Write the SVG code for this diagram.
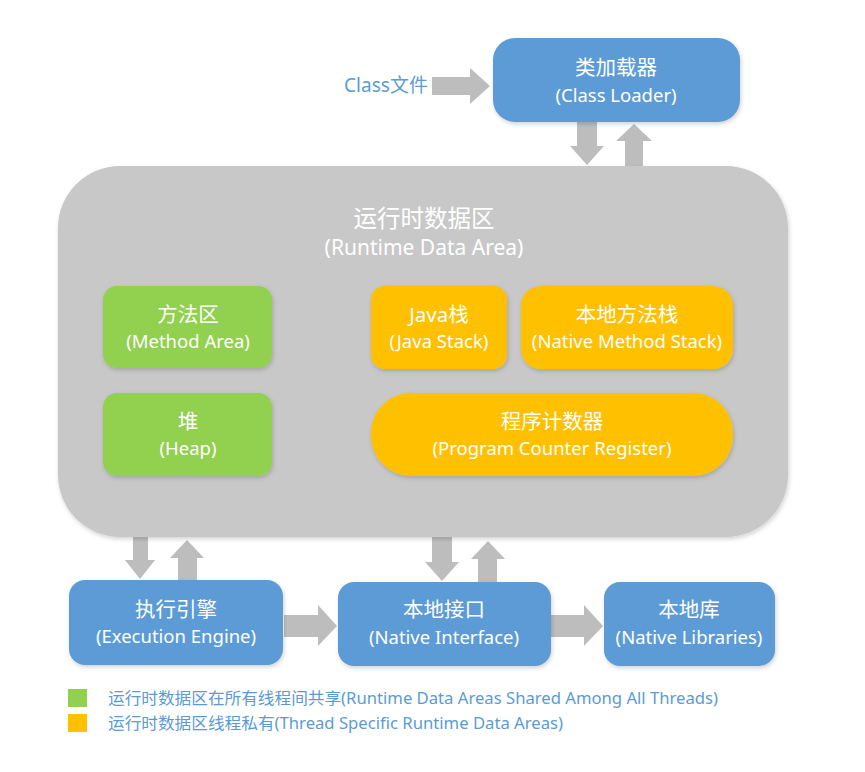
<svg xmlns="http://www.w3.org/2000/svg" width="865" height="772" viewBox="0 0 865 772">
<defs>
<filter id="sh" x="-10%" y="-10%" width="120%" height="130%">
<feDropShadow dx="1" dy="2" stdDeviation="2" flood-color="#000" flood-opacity="0.18"/>
</filter>
<style>
.t{font-family:"Noto Sans","Noto Sans CJK SC",sans-serif;fill:#fff;text-anchor:middle}
.h{font-size:20.5px}
.s{font-size:18.5px}
.bh{font-size:23.5px}
.bs{font-size:21px}
.blue{fill:#5B9BD5}
.green{fill:#92D050}
.yellow{fill:#FFC000}
.arr{fill:#BDBDBD}
.lg{font-family:"Noto Sans","Noto Sans CJK SC",sans-serif;font-size:16px;fill:#5B9BD5}
</style>
</defs>
<rect width="865" height="772" fill="#fff"/>

<g id="connectors">
<polygon class="arr" points="432,77 470,77 470,68 490,86 470,104 470,95 432,95"/>
<polygon class="arr" points="577,122 597,122 597,146 604,146 587,165 570,146 577,146"/>
<polygon class="arr" points="625,167 643,167 643,141 652,141 634,124 616,141 625,141"/>
<polygon class="arr" points="133,537 148,537 148,560 155,560 140,579 125,560 133,560"/>
<polygon class="arr" points="178,581 197,581 197,558 204,558 187,540 170,558 178,558"/>
<polygon class="arr" points="432,537 452,537 452,562 459,562 442,581 425,562 432,562"/>
<polygon class="arr" points="478,582 497,582 497,559 505,559 488,541 471,559 478,559"/>
<polygon class="arr" points="284,615 318,615 318,605 337,626 318,646 318,637 284,637"/>
<polygon class="arr" points="551,615 584,615 584,605 603,626 584,646 584,637 551,637"/>
</g>

<text x="386" y="92" font-family="Noto Sans,Noto Sans CJK SC,sans-serif" font-size="19" fill="#5B9BD5" text-anchor="middle">Class文件</text>

<g id="class-loader">
<rect x="493" y="38" width="247" height="84" rx="22" class="blue" filter="url(#sh)"/>
<text x="616" y="75" class="t h">类加载器</text>
<text x="616" y="102" class="t s">(Class Loader)</text>
</g>

<g id="runtime-data-area">
<rect x="58" y="166" width="730" height="371" rx="62" fill="#C8C8C8" filter="url(#sh)"/>
<text x="424" y="227" class="t bh">运行时数据区</text>
<text x="424" y="255" class="t bs">(Runtime Data Area)</text>
</g>

<g id="method-area">
<rect x="103" y="286" width="169" height="82" rx="14" class="green" filter="url(#sh)"/>
<text x="188" y="322" class="t h">方法区</text>
<text x="188" y="348" class="t s">(Method Area)</text>
</g>

<g id="heap">
<rect x="103" y="393" width="169" height="83" rx="14" class="green" filter="url(#sh)"/>
<text x="188" y="429" class="t h">堆</text>
<text x="188" y="455" class="t s">(Heap)</text>
</g>

<g id="java-stack">
<rect x="371" y="286" width="136" height="83" rx="14" class="yellow" filter="url(#sh)"/>
<text x="439" y="322" class="t h">Java栈</text>
<text x="439" y="348" class="t s">(Java Stack)</text>
</g>

<g id="native-method-stack">
<rect x="521" y="286" width="212" height="83" rx="20" class="yellow" filter="url(#sh)"/>
<text x="627" y="322" class="t h">本地方法栈</text>
<text x="627" y="348" class="t s">(Native Method Stack)</text>
</g>

<g id="pc-register">
<rect x="371" y="393" width="362" height="83" rx="40" class="yellow" filter="url(#sh)"/>
<text x="552" y="429" class="t h">程序计数器</text>
<text x="552" y="455" class="t s">(Program Counter Register)</text>
</g>

<g id="execution-engine">
<rect x="69" y="580" width="214" height="85" rx="16" class="blue" filter="url(#sh)"/>
<text x="176" y="617" class="t h">执行引擎</text>
<text x="176" y="643" class="t s">(Execution Engine)</text>
</g>

<g id="native-interface">
<rect x="338" y="582" width="213" height="84" rx="16" class="blue" filter="url(#sh)"/>
<text x="444" y="617" class="t h">本地接口</text>
<text x="444" y="644" class="t s">(Native Interface)</text>
</g>

<g id="native-libraries">
<rect x="604" y="582" width="171" height="84" rx="16" class="blue" filter="url(#sh)"/>
<text x="689" y="617" class="t h">本地库</text>
<text x="689" y="644" class="t s">(Native Libraries)</text>
</g>

<g id="legend">
<rect x="68" y="689" width="19" height="18" fill="#92D050"/>
<text x="108" y="704" class="lg" textLength="610" lengthAdjust="spacingAndGlyphs">运行时数据区在所有线程间共享(Runtime Data Areas Shared Among All Threads)</text>
<rect x="68" y="714" width="19" height="18" fill="#FFC000"/>
<text x="108" y="729" class="lg" textLength="455" lengthAdjust="spacingAndGlyphs">运行时数据区线程私有(Thread Specific Runtime Data Areas)</text>
</g>
</svg>
